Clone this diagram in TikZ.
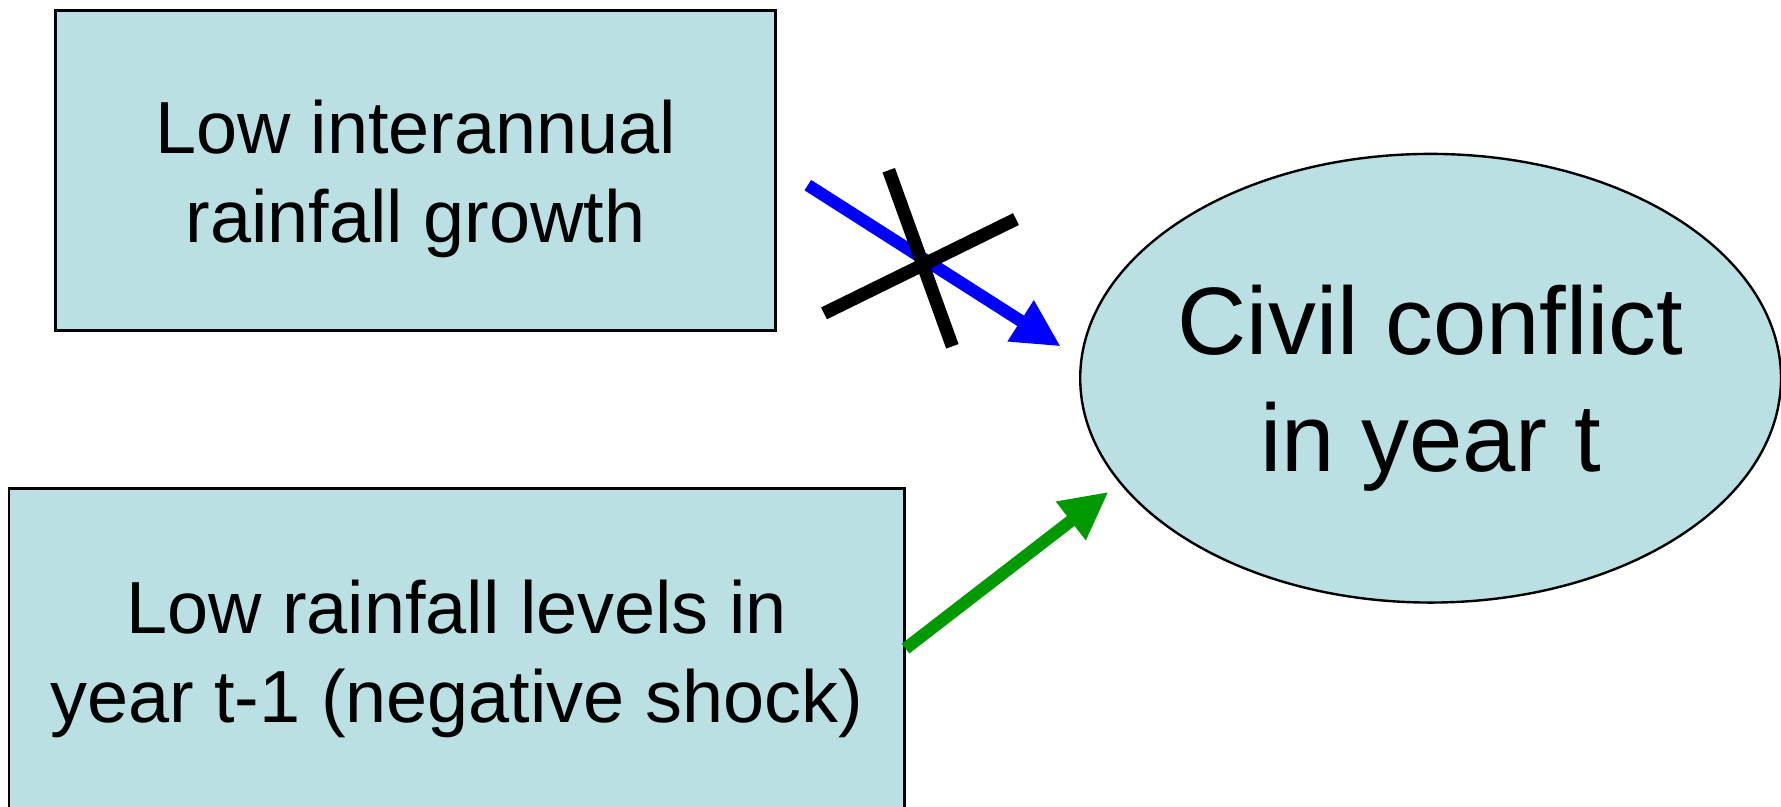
\documentclass[tikz,border=0pt]{standalone}
\usepackage{fontspec}
\setmainfont{Liberation Sans}
\usepackage{tikz}
\usetikzlibrary{arrows.meta,calc,positioning,shapes.geometric}
\definecolor{pale}{HTML}{BBE0E3}
\definecolor{blue}{HTML}{0000FF}
\definecolor{green}{HTML}{009900}

\begin{document}
\begin{tikzpicture}[
  cause/.style={draw,line width=0.7pt,fill=pale,align=center,font=\fontsize{18.5}{22.3}\selectfont},
  link/.style={line width=3.1pt,-{Triangle[length=0.42cm,width=0.40cm]}}]
  \useasboundingbox (0,0) rectangle (15.68,7.10);
  \clip (0,0) rectangle (15.68,7.10);
  \node[cause,minimum width=6.34cm,minimum height=2.82cm,text height=1.40cm] (growth) at (3.66,5.60) {Low interannual\\rainfall growth};
  \node[cause,minimum width=7.88cm,minimum height=3.0cm] (levels) at (4.02,1.30) {Low rainfall levels in\\year t-1 (negative shock)};
  \node[ellipse,draw,line width=0.6pt,fill=pale,minimum width=6.17cm,minimum height=3.95cm,inner xsep=-0.1cm,inner ysep=0pt,
    align=center,text height=1.82cm,font=\fontsize{24}{29.3}\selectfont] (conflict) at (12.595,3.77) {Civil conflict\\in year t};
  % arrows into the conflict node
  \coordinate (g0) at ($(growth.east)+(0.27,-0.13)$);
  \coordinate (g1) at ($(conflict.west)+(-0.16,0.28)$);
  \coordinate (l0) at ($(levels.east)+(0,0.09)$);
  \coordinate (l1) at ($(conflict.west)+(0.26,-1.00)$);
  \draw[link,blue] (g0)--(g1);
  \draw[link,green] (l0)--(l1);
  % struck out
  \coordinate (cut) at ($(g0)!0.45!(g1)$);
  \draw[line width=3.3pt] ($(cut)+(-0.29,0.77)$)--($(cut)+(0.27,-0.78)$);
  \draw[line width=3.3pt] ($(cut)+(-0.86,-0.49)$)--($(cut)+(0.83,0.34)$);
\end{tikzpicture}
\end{document}
